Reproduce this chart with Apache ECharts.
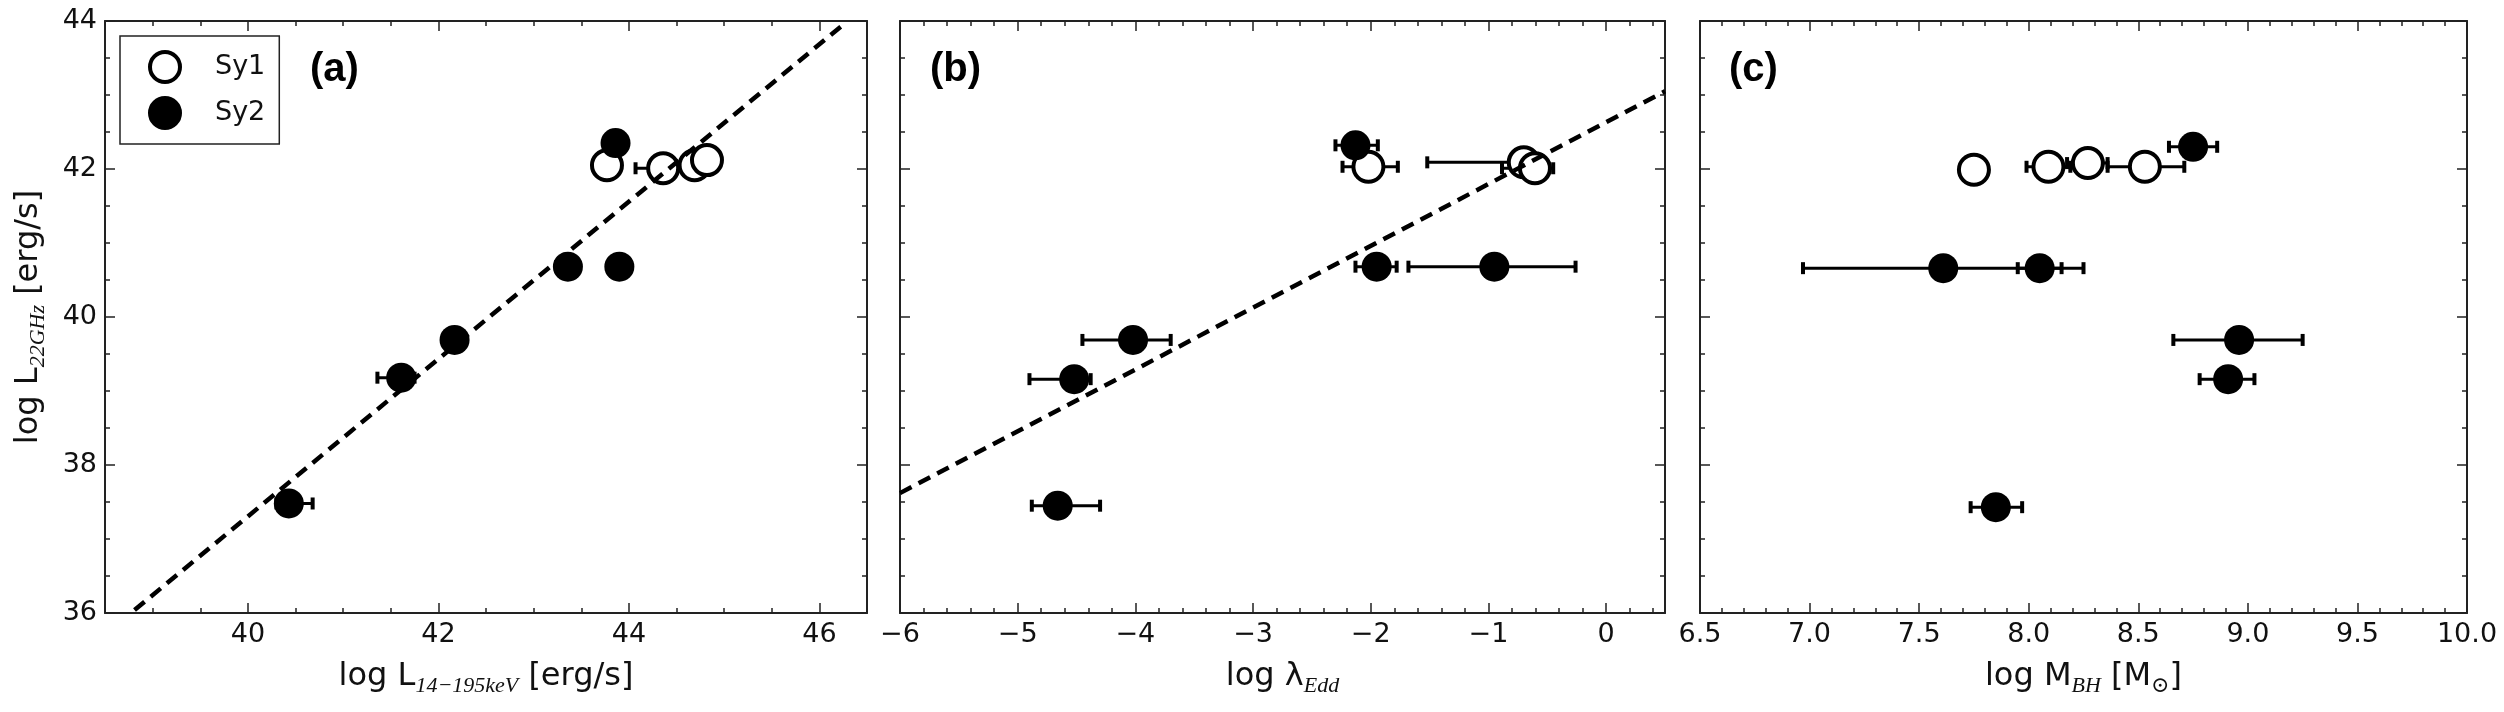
<!DOCTYPE html>
<html>
<head>
<meta charset="utf-8">
<title>22 GHz luminosity vs hard X-ray, Eddington ratio and BH mass</title>
<script src="https://cdn.jsdelivr.net/npm/echarts@6/dist/echarts.min.js"></script>
<style>
  html, body { margin: 0; background: #fff; }
  #main { width: 2504px; height: 712px; }
</style>
</head>
<body>
<div id="main"></div>
<script>
// shared y axis: log L_22GHz
var yRange = [36, 44];
var yMajor = [36, 38, 40, 42, 44];
var yMinorStep = 0.5;

// panel (a): x = log L_14-195keV
var xRangeA = [38.5, 46.5];
var xMajorA = [40, 42, 44, 46];
var xMinorStepA = 0.5;
var sy1A = [[43.77, 42.05], [44.36, 42.01], [44.69, 42.05], [44.82, 42.12]];
var sy2A = [[40.43, 37.48], [41.61, 39.18], [42.17, 39.69], [43.36, 40.68], [43.90, 40.68], [43.86, 42.35]];
// error bars: [x, y, xLow, xHigh]
var errA = [[40.43, 37.48, 40.30, 40.68], [41.61, 39.18, 41.36, 41.75], [44.36, 42.01, 44.07, 44.65]];
var fitA = [[38.81, 36.04], [46.23, 43.93]];

// panel (b): x = log lambda_Edd
var xRangeB = [-6, 0.5];
var xMajorB = [-6, -5, -4, -3, -2, -1, 0];
var xMinorStepB = 0.2;
var sy1B = [[-2.02, 42.03], [-0.70, 42.09], [-0.605, 42.01]];
var sy2B = [[-2.13, 42.32], [-1.95, 40.68], [-0.95, 40.68], [-4.02, 39.69], [-4.52, 39.16], [-4.66, 37.45]];
var errB = [
  [-2.13, 42.32, -2.30, -1.94], [-2.02, 42.03, -2.24, -1.77], [-0.70, 42.09, -1.52, -0.55],
  [-0.605, 42.01, -0.885, -0.45], [-1.95, 40.68, -2.13, -1.78], [-0.95, 40.68, -1.68, -0.26],
  [-4.02, 39.69, -4.45, -3.70], [-4.52, 39.16, -4.90, -4.38], [-4.66, 37.45, -4.88, -4.30]
];
var fitB = [[-6, 37.62], [0.5, 43.05]];

// panel (c): x = log M_BH
var xRangeC = [6.5, 10];
var xMajorC = [6.5, 7, 7.5, 8, 8.5, 9, 9.5, 10];
var xMinorStepC = 0.1;
var sy1C = [[7.75, 41.99], [8.09, 42.03], [8.27, 42.08], [8.53, 42.03]];
var sy2C = [[8.75, 42.30], [7.61, 40.66], [8.05, 40.66], [8.96, 39.69], [8.91, 39.16], [7.85, 37.43]];
var errC = [
  [8.09, 42.03, 7.99, 8.19], [8.27, 42.08, 8.175, 8.36], [8.53, 42.03, 8.36, 8.71],
  [8.75, 42.30, 8.64, 8.86], [7.61, 40.66, 6.97, 8.25], [8.05, 40.66, 7.95, 8.15],
  [8.96, 39.69, 8.66, 9.25], [8.91, 39.16, 8.78, 9.03], [7.85, 37.43, 7.735, 7.97]
];

var ink = '#111';
var nameRich = {
  n: { fontSize: 32, fontFamily: 'DejaVu Sans', color: ink, lineHeight: 40 },
  s: { fontSize: 22, fontFamily: 'Liberation Serif, DejaVu Serif', fontStyle: 'italic', color: ink,
       lineHeight: 22, verticalAlign: 'bottom' }
};

function minorValues(range, step, major) {
  var out = [];
  var n = Math.round((range[1] - range[0]) / step);
  for (var i = 0; i <= n; i++) {
    var v = +(range[0] + i * step).toFixed(4);
    if (major.indexOf(v) < 0) out.push(v);
  }
  return out;
}

function fmt(digits) {
  return function (v) {
    var s = Math.abs(v).toFixed(digits);
    return v < 0 ? '\u2212' + s : s;
  };
}

// major + minor axis for one side of a panel, ticks pointing inward
function sideAxes(grid, range, major, step, pos, label, name, nameGap, digits) {
  var majorAxis = {
    type: 'value', gridIndex: grid, min: range[0], max: range[1], position: pos,
    axisLine: { show: true, onZero: false, lineStyle: { color: '#222', width: 2 } },
    axisTick: { show: true, inside: true, length: 10, customValues: major,
                lineStyle: { color: '#222', width: 1.5 } },
    axisLabel: { show: label, customValues: major, formatter: fmt(digits), fontSize: 27,
                 fontFamily: 'DejaVu Sans', color: ink, margin: 8 },
    splitLine: { show: false }
  };
  if (name) {
    majorAxis.name = name;
    majorAxis.nameLocation = 'middle';
    majorAxis.nameGap = nameGap;
    majorAxis.nameTextStyle = { rich: nameRich };
  }
  var minorAxis = {
    type: 'value', gridIndex: grid, min: range[0], max: range[1], position: pos,
    axisLine: { show: false, onZero: false },
    axisTick: { show: true, inside: true, length: 5, customValues: minorValues(range, step, major),
                lineStyle: { color: '#222', width: 1.5 } },
    axisLabel: { show: false },
    splitLine: { show: false }
  };
  return [majorAxis, minorAxis];
}

function errSeries(data, g) {
  return {
    type: 'custom', xAxisIndex: g * 4, yAxisIndex: g * 4, z: 1, silent: true,
    encode: { x: [0, 2, 3], y: 1 },
    data: data,
    renderItem: function (params, api) {
      var y = api.value(1);
      var a = api.coord([api.value(2), y]);
      var b = api.coord([api.value(3), y]);
      return {
        type: 'group',
        children: [
          { type: 'line', shape: { x1: a[0], y1: a[1], x2: b[0], y2: b[1] },
            style: { stroke: '#000', lineWidth: 3 } },
          { type: 'rect', shape: { x: a[0] - 2, y: a[1] - 6, width: 4, height: 12 }, style: { fill: '#000' } },
          { type: 'rect', shape: { x: b[0] - 2, y: b[1] - 6, width: 4, height: 12 }, style: { fill: '#000' } }
        ]
      };
    }
  };
}

function pointSeries(name, data, g, open) {
  return {
    name: name, type: 'scatter', xAxisIndex: g * 4, yAxisIndex: g * 4, z: 2,
    symbol: 'circle', symbolSize: 30, data: data,
    itemStyle: open ? { color: '#fff', borderColor: '#000', borderWidth: 4, opacity: 1 }
                    : { color: '#000', borderColor: '#000', borderWidth: 0, opacity: 1 },
    emphasis: { disabled: true }
  };
}

function fitSeries(data, g) {
  return {
    type: 'line', xAxisIndex: g * 4, yAxisIndex: g * 4, z: 3, silent: true,
    data: data, symbol: 'none',
    lineStyle: { color: '#000', width: 4.5, type: [13, 8] }
  };
}

var panels = [
  { left: 105, width: 762, x: xRangeA, major: xMajorA, step: xMinorStepA, digits: 0,
    xName: '{n|log L}{s|14\u2212195keV}{n| [erg/s]}' },
  { left: 900, width: 765, x: xRangeB, major: xMajorB, step: xMinorStepB, digits: 0,
    xName: '{n|log \u03bb}{s|Edd}' },
  { left: 1700, width: 767, x: xRangeC, major: xMajorC, step: xMinorStepC, digits: 1,
    xName: '{n|log M}{s|BH}{n| [M}{s|\u2299}{n|]}' }
];

var grids = [], xAxes = [], yAxes = [];
panels.forEach(function (p, g) {
  grids.push({ left: p.left, width: p.width, top: 21, height: 592 });
  xAxes = xAxes.concat(
    sideAxes(g, p.x, p.major, p.step, 'bottom', true, p.xName, 44, p.digits),
    sideAxes(g, p.x, p.major, p.step, 'top', false)
  );
  yAxes = yAxes.concat(
    sideAxes(g, yRange, yMajor, yMinorStep, 'left', g === 0,
             g === 0 ? '{n|log L}{s|22GHz}{n| [erg/s]}' : null, 56, 0),
    sideAxes(g, yRange, yMajor, yMinorStep, 'right', false)
  );
});

var series = [
  errSeries(errA, 0), pointSeries('Sy1', sy1A, 0, true), pointSeries('Sy2', sy2A, 0, false), fitSeries(fitA, 0),
  errSeries(errB, 1), pointSeries('Sy1', sy1B, 1, true), pointSeries('Sy2', sy2B, 1, false), fitSeries(fitB, 1),
  errSeries(errC, 2), pointSeries('Sy1', sy1C, 2, true), pointSeries('Sy2', sy2C, 2, false)
];

var labelStyle = { fontSize: 40, fontWeight: 'bold', fontFamily: 'Liberation Sans', color: '#000' };

var chart = echarts.init(document.getElementById('main'));
chart.setOption({
  animation: false,
  backgroundColor: '#fff',
  title: [
    { text: '(a)', left: 310, top: 50, padding: 0, textStyle: labelStyle },
    { text: '(b)', left: 930, top: 50, padding: 0, textStyle: labelStyle },
    { text: '(c)', left: 1729, top: 50, padding: 0, textStyle: labelStyle }
  ],
  legend: {
    data: ['Sy1', 'Sy2'], orient: 'vertical', left: 120, top: 36,
    padding: [14, 14, 14, 28], itemGap: 12, itemWidth: 30, itemHeight: 30,
    borderColor: '#222', borderWidth: 1.5, borderRadius: 0, selectedMode: false,
    itemStyle: { borderWidth: 4 },
    textStyle: { fontSize: 27, fontFamily: 'DejaVu Sans', color: ink, padding: [0, 0, 0, 30] }
  },
  grid: grids,
  xAxis: xAxes,
  yAxis: yAxes,
  series: series
});
</script>
</body>
</html>
